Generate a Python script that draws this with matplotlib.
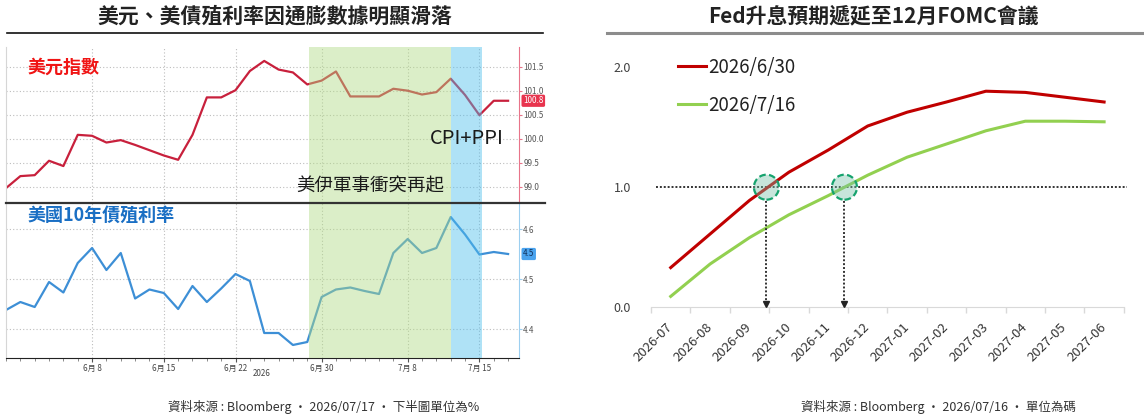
import numpy as np
import matplotlib.pyplot as plt
from matplotlib.lines import Line2D
from matplotlib.patches import Ellipse
from matplotlib.transforms import blended_transform_factory

plt.rcParams['font.family'] = ['Noto Sans CJK TC', 'DejaVu Sans']

W, H = 1144, 417

# left chart: weekdays 2026-05-29 .. 2026-07-17 (Bloomberg)
dxy = [98.97, 99.22, 99.24, 99.54, 99.43, 100.08, 100.06, 99.92, 99.97, 99.87,
       99.76, 99.65, 99.56, 100.08, 100.86, 100.86, 101.01, 101.41, 101.62, 101.44,
       101.38, 101.13, 101.21, 101.40, 100.88, 100.88, 100.88, 101.04, 101.00, 100.92,
       100.97, 101.25, 100.91, 100.49, 100.79, 100.79]
ust10 = [4.439, 4.455, 4.445, 4.495, 4.474, 4.533, 4.563, 4.519, 4.553, 4.462,
         4.480, 4.473, 4.441, 4.487, 4.455, 4.482, 4.511, 4.497, 4.393, 4.393,
         4.369, 4.375, 4.465, 4.480, 4.484, 4.477, 4.471, 4.553, 4.581, 4.553,
         4.563, 4.625, 4.590, 4.550, 4.555, 4.551]
date_pos = [6, 11, 16, 22, 28, 33]
date_labels = ['6月 8', '6月 15', '6月 22', '6月 30', '7月 8', '7月 15']
dxy_ticks = [99.0, 99.5, 100.0, 100.5, 101.0, 101.5]
ust_ticks = [4.4, 4.5, 4.6]
conflict_span = (21.1, 31.05)
cpi_span = (31.05, 33.2)
dxy_last_label = '100.8'
ust_last_label = '4.5'

# right chart: implied hikes (bp/25)
months = ['2026-07', '2026-08', '2026-09', '2026-10', '2026-11', '2026-12',
          '2027-01', '2027-02', '2027-03', '2027-04', '2027-05', '2027-06']
fed_0630 = [0.33, 0.61, 0.89, 1.125, 1.31, 1.51, 1.625, 1.71, 1.80, 1.79, 1.75, 1.71]
fed_0716 = [0.09, 0.36, 0.58, 0.77, 0.93, 1.10, 1.25, 1.36, 1.47, 1.55, 1.55, 1.545]
cross_pos = [2.43, 4.41]


def box(x0, y0, x1, y1):
    return [x0 / W, 1 - y1 / H, (x1 - x0) / W, (y1 - y0) / H]


def fx(x):
    return x / W


def fy(y):
    return 1 - y / H


fig = plt.figure(figsize=(W / 100, H / 100), dpi=100)

# titles
fig.text(fx(275), fy(16), '美元、美債殖利率因通膨數據明顯滑落', ha='center', va='center',
         fontsize=15, fontweight='bold', color='#222222')
fig.text(fx(873), fy(16), 'Fed升息預期遞延至12月FOMC會議', ha='center', va='center',
         fontsize=15, fontweight='bold', color='#222222')
fig.add_artist(Line2D([fx(7), fx(543)], [fy(33.3)] * 2, color='#111111', lw=1.2))
fig.add_artist(Line2D([fx(607), fx(1144)], [fy(33.3)] * 2, color='#8c8c8c', lw=2.2))

# ---------- left: DXY + UST10 ----------
ax1 = fig.add_axes(box(6, 47, 519, 203))
ax2 = fig.add_axes(box(6, 203, 519, 358))
x = np.arange(len(dxy))

for ax, ys, col, ticks, rcol in [(ax1, dxy, '#c8203c', dxy_ticks, '#e8748a'),
                                 (ax2, ust10, '#3d8fd6', ust_ticks, '#9ccff0')]:
    ax.plot(x, ys, color=col, lw=1.6, zorder=2)
    ax.axvspan(*conflict_span, color='#b1db85', alpha=0.45, lw=0, zorder=3)
    ax.axvspan(*cpi_span, color='#4fbfed', alpha=0.45, lw=0, zorder=3)
    ax.set_xlim(0, 35.76)
    ax.yaxis.tick_right()
    ax.set_yticks(ticks)
    ax.set_yticklabels(['%.1f' % t for t in ticks])
    ax.tick_params(axis='y', labelsize=5.8, labelcolor='#555555', color=rcol,
                   length=2, pad=1)
    ax.set_xticks(date_pos)
    ax.grid(True, ls=(0, (1, 2)), color='#bdbdbd', lw=0.8)
    ax.set_axisbelow(True)
    for s in ['top', 'bottom']:
        ax.spines[s].set_visible(False)
    ax.spines['left'].set_color('#d6d6d6')
    ax.spines['right'].set_color(rcol)

ax1.set_ylim(98.66, 101.91)
ax1.tick_params(axis='x', length=0, labelbottom=False)
ax2.set_ylim(4.343, 4.653)
ax2.spines['bottom'].set_visible(True)
ax2.spines['bottom'].set_color('#222222')
ax2.set_xticks(x, minor=True)
ax2.set_xticklabels(date_labels)
ax2.tick_params(axis='x', labelsize=5.8, labelcolor='#444444', color='#555555',
                length=3, pad=1.5)
ax2.tick_params(axis='x', which='minor', length=2, color='#777777')

# last-value tags
for ax, ys, lab, fc, tc in [(ax1, dxy, dxy_last_label, '#e8344e', 'white'),
                            (ax2, ust10, ust_last_label, '#4aa3ee', '#10305a')]:
    tr = blended_transform_factory(ax.transAxes, ax.transData)
    ax.text(1.008, ys[-1], lab, transform=tr, ha='left', va='center', fontsize=5.8,
            color=tc, clip_on=False,
            bbox=dict(boxstyle='round,pad=0.2', fc=fc, ec='none'))

# separator between panels
fig.add_artist(Line2D([fx(6), fx(545)], [fy(203)] * 2, color='#333333', lw=1.6))

fig.text(fx(27), fy(67), '美元指數', ha='left', va='center', fontsize=13,
         fontweight='bold', color='#f01414')
fig.text(fx(27), fy(215), '美國10年債殖利率', ha='left', va='center', fontsize=13,
         fontweight='bold', color='#1a6fc4')
fig.text(fx(430), fy(139), 'CPI+PPI', ha='left', va='center', fontsize=14.5,
         color='#1a1a1a')
fig.text(fx(296), fy(186), '美伊軍事衝突再起', ha='left', va='center', fontsize=13.3,
         color='#1a1a1a')
fig.text(fx(262), fy(374), '2026', ha='center', va='center', fontsize=5.8,
         color='#444444')
fig.text(fx(324), fy(407), '資料來源 : Bloomberg · 2026/07/17 · 下半圖單位為%',
         ha='center', va='center', fontsize=9, color='#333333')

# ---------- right: Fed pricing ----------
ax3 = fig.add_axes(box(651, 67.2, 1123.8, 307.2))
m = np.arange(len(months))
ax3.plot(m, fed_0630, color='#c00000', lw=2.2, label='2026/6/30', zorder=3)
ax3.plot(m, fed_0716, color='#92d050', lw=2.2, label='2026/7/16', zorder=3)
ax3.set_xlim(-0.5, 11.5)
ax3.set_ylim(0, 2)
ax3.hlines(1.0, -0.37, 11.57, colors='#333333', linestyles=(0, (1, 1)), lw=1.4,
           clip_on=False, zorder=2)

for cx in cross_pos:
    ax3.add_patch(Ellipse((cx, 1.0), 25 / 39.4, 25 / 120,
                          fc=(117 / 255, 192 / 255, 167 / 255, 0.4), ec='#16a36e',
                          ls=(0, (3, 1.5)), lw=1.6, zorder=4))
    ax3.vlines(cx, 0.03, 0.895, colors='#333333', linestyles=(0, (1, 1)), lw=1.4,
               zorder=4)
    ax3.plot(cx, 0.03, marker='v', ms=5, color='#222222', clip_on=False, zorder=5)

ax3.set_yticks([0, 1, 2])
ax3.set_yticklabels(['0.0', '1.0', '2.0'])
ax3.tick_params(axis='y', length=0, pad=14.4, labelsize=9, labelcolor='#404040')
ax3.set_xticks(m)
ax3.set_xticklabels(months)
ax3.set_xticks(np.arange(-0.5, 12, 1), minor=True)
ax3.tick_params(axis='x', length=0, pad=13, labelsize=9.5, labelcolor='#333333')
ax3.tick_params(axis='x', which='minor', length=4, color='#d9d9d9', width=1)
plt.setp(ax3.get_xticklabels(), rotation=45, ha='right', va='center',
         rotation_mode='anchor')
for s in ['top', 'left', 'right']:
    ax3.spines[s].set_visible(False)
ax3.spines['bottom'].set_color('#d9d9d9')

leg = ax3.legend(loc='upper left', bbox_to_anchor=(0.058, 1.043), frameon=False,
                 fontsize=13.5, handlelength=1.45, handletextpad=0.15,
                 labelspacing=0.9, borderaxespad=0, borderpad=0)
for t in leg.get_texts():
    t.set_color('#222222')

fig.text(fx(938), fy(407), '資料來源 : Bloomberg · 2026/07/16 · 單位為碼',
         ha='center', va='center', fontsize=9, color='#333333')

fig.savefig('out.png', dpi=100, facecolor='white')
